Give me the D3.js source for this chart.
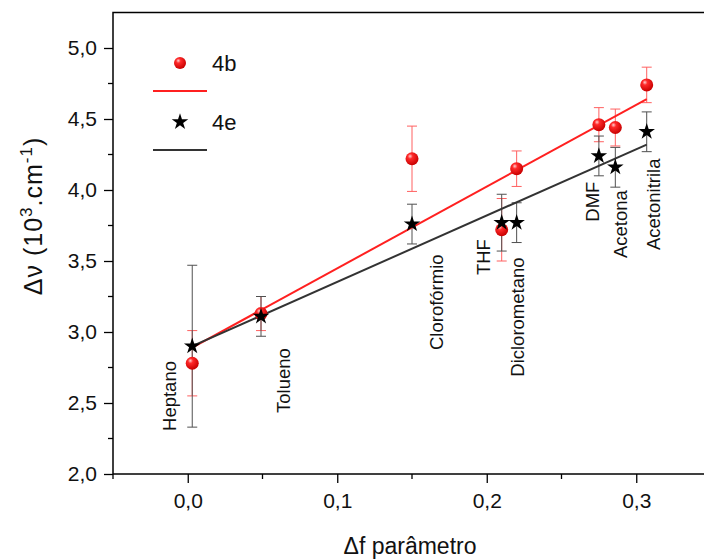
<!DOCTYPE html>
<html>
<head>
<meta charset="utf-8">
<script src="https://cdnjs.cloudflare.com/ajax/libs/d3/7.8.5/d3.min.js"></script>
<style>
body { margin: 0; background: #fff; }
svg { display: block; font-family: "Liberation Sans", Arial, sans-serif; }
</style>
</head>
<body>
<div id="chart"></div>
<script>
// solvatochromic shift vs orientation polarisability
var solvents = ["Heptano", "Tolueno", "Clorofórmio", "THF", "Diclorometano", "DMF", "Acetona", "Acetonitrila"];
var deltaF = [0.003, 0.049, 0.150, 0.210, 0.220, 0.275, 0.286, 0.307];
var nu4b = [2.78, 3.13, 4.22, 3.72, 4.15, 4.46, 4.44, 4.74];
var err4b = [0.23, 0.12, 0.23, 0.22, 0.125, 0.12, 0.13, 0.125];
var nu4e = [2.90, 3.11, 3.76, 3.77, 3.77, 4.24, 4.16, 4.41];
var err4e = [0.57, 0.14, 0.14, 0.20, 0.14, 0.14, 0.14, 0.14];
// linear fits (end points)
var fitX = [0.003, 0.307];
var fit4b = [2.89, 4.64];
var fit4e = [2.90, 4.32];
// where the solvent names sit (data units)
var labelX = [-0.0077, 0.0682, 0.1706, 0.2020, 0.2247, 0.2749, 0.2936, 0.3157];
var labelY = [2.303, 2.430, 2.873, 3.401, 2.685, 3.777, 3.521, 3.577];
var xTicks = [0.0, 0.1, 0.2, 0.3];
var xMinor = [-0.05, 0.05, 0.15, 0.25];
var yTicks = [2.0, 2.5, 3.0, 3.5, 4.0, 4.5, 5.0];
var yMinor = [2.25, 2.75, 3.25, 3.75, 4.25, 4.75];

const W = 704, H = 560;
var mLeft = 113, mTop = 12.5, mBottom = 474, mRight = 711;

var x = d3.scaleLinear().domain([-0.05, 0.35]).range([mLeft, mRight]);
var y = d3.scaleLinear().domain([2.0, 5.25]).range([mBottom, mTop]);
var fmt = function(d) { return d3.format(".1f")(d).replace(".", ","); };

var svg = d3.select("#chart").append("svg")
	.attr("width", W)
	.attr("height", H);

var defs = svg.append("defs");
var grad = defs.append("radialGradient")
	.attr("id", "ball")
	.attr("cx", "40%").attr("cy", "35%").attr("r", "65%")
	.attr("fx", "35%").attr("fy", "30%");
grad.append("stop").attr("offset", "0%").attr("stop-color", "#ffd0d0");
grad.append("stop").attr("offset", "30%").attr("stop-color", "#ff2a2a");
grad.append("stop").attr("offset", "100%").attr("stop-color", "#c80000");

// axes
var xAxis = d3.axisBottom(x).tickValues(xTicks).tickFormat(fmt).tickSize(9).tickPadding(10).tickSizeOuter(0);
var yAxis = d3.axisLeft(y).tickValues(yTicks).tickFormat(fmt).tickSize(9).tickPadding(7).tickSizeOuter(0);

var gx = svg.append("g").attr("transform", "translate(0," + mBottom + ")").call(xAxis);
xMinor.forEach(function(v) {
	gx.append("line")
		.attr("x1", x(v)).attr("x2", x(v))
		.attr("y1", 0).attr("y2", 5);
});

var gy = svg.append("g").attr("transform", "translate(" + mLeft + ",0)").call(yAxis);
yMinor.forEach(function(v) {
	gy.append("line")
		.attr("x1", -5).attr("x2", 0)
		.attr("y1", y(v)).attr("y2", y(v));
});

[gx, gy].forEach(function(g) {
	g.attr("font-size", null).attr("font-family", null);
	g.select(".domain").remove();
	g.selectAll("line").attr("stroke", "#000").attr("stroke-width", 1.3);
	g.selectAll("text").attr("font-size", 21).attr("fill", "#111");
});

// frame
svg.append("rect")
	.attr("x", mLeft).attr("y", mTop)
	.attr("width", mRight - mLeft).attr("height", mBottom - mTop)
	.attr("fill", "none").attr("stroke", "#000").attr("stroke-width", 1.5);

// error bars
function errorBars(vals, errs, color) {
	var g = svg.append("g").attr("stroke", color).attr("stroke-width", 1).attr("fill", "none");
	deltaF.forEach(function(f, i) {
		var cx = x(f), y1 = y(vals[i] + errs[i]), y2 = y(vals[i] - errs[i]);
		g.append("line").attr("x1", cx).attr("x2", cx).attr("y1", y1).attr("y2", y2);
		g.append("line").attr("x1", cx - 5).attr("x2", cx + 5).attr("y1", y1).attr("y2", y1);
		g.append("line").attr("x1", cx - 5).attr("x2", cx + 5).attr("y1", y2).attr("y2", y2);
	});
}
errorBars(nu4b, err4b, "#ff6060");
errorBars(nu4e, err4e, "#505050");

// fit lines
var line = d3.line().x(function(d) { return x(d[0]); }).y(function(d) { return y(d[1]); });
svg.append("path").datum(d3.zip(fitX, fit4b)).attr("d", line)
	.attr("fill", "none").attr("stroke", "#ff2020").attr("stroke-width", 2);
svg.append("path").datum(d3.zip(fitX, fit4e)).attr("d", line)
	.attr("fill", "none").attr("stroke", "#333").attr("stroke-width", 2);

// points
svg.append("g").selectAll("circle")
	.data(d3.zip(deltaF, nu4b))
	.enter().append("circle")
		.attr("cx", function(d) { return x(d[0]); })
		.attr("cy", function(d) { return y(d[1]); })
		.attr("r", 6.5)
		.attr("fill", "url(#ball)");

var star = d3.symbol().type(d3.symbolStar).size(85);
svg.append("g").selectAll("path")
	.data(d3.zip(deltaF, nu4e))
	.enter().append("path")
		.attr("d", star)
		.attr("transform", function(d) { return "translate(" + x(d[0]) + "," + y(d[1]) + ")"; })
		.attr("fill", "#000");

// solvent names
svg.append("g").selectAll("text")
	.data(solvents)
	.enter().append("text")
		.attr("transform", function(d, i) { return "translate(" + x(labelX[i]) + "," + y(labelY[i]) + ") rotate(-90)"; })
		.attr("font-size", 18.5)
		.attr("fill", "#111")
		.text(function(d) { return d; });

// legend
var lg = svg.append("g");
lg.append("circle").attr("cx", 180).attr("cy", 63).attr("r", 6).attr("fill", "url(#ball)");
lg.append("text").attr("x", 212).attr("y", 71).attr("font-size", 22).attr("fill", "#111").text("4b");
lg.append("line").attr("x1", 153).attr("x2", 207).attr("y1", 91).attr("y2", 91)
	.attr("stroke", "#ff2020").attr("stroke-width", 2);
lg.append("path").attr("d", star).attr("transform", "translate(180,122)").attr("fill", "#000");
lg.append("text").attr("x", 212).attr("y", 130).attr("font-size", 22).attr("fill", "#111").text("4e");
lg.append("line").attr("x1", 153).attr("x2", 207).attr("y1", 150).attr("y2", 150)
	.attr("stroke", "#333").attr("stroke-width", 2);

// axis titles
svg.append("text")
	.attr("x", 410).attr("y", 554)
	.attr("text-anchor", "middle")
	.attr("font-size", 23)
	.attr("fill", "#111")
	.text("Δf parâmetro");

var yt = svg.append("text")
	.attr("transform", "translate(42,216) rotate(-90)")
	.attr("text-anchor", "middle")
	.attr("font-size", 25)
	.attr("letter-spacing", 1)
	.attr("fill", "#111");
yt.append("tspan").text("Δν (10");
yt.append("tspan").attr("font-size", 17).attr("dy", -10).text("3");
yt.append("tspan").attr("dy", 10).text(".cm");
yt.append("tspan").attr("font-size", 17).attr("dy", -10).text("-1");
yt.append("tspan").attr("dy", 10).text(")");
</script>
</body>
</html>
